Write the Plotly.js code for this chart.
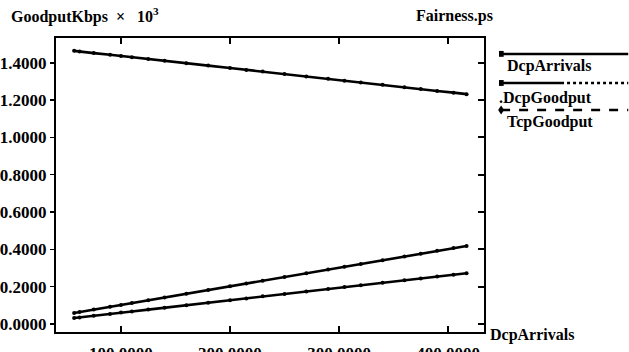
<!DOCTYPE html>
<html><head><meta charset="utf-8">
<script src="https://cdn.plot.ly/plotly-3.0.1.min.js"></script>
<style>html,body{margin:0;padding:0;background:#fff;}#chart{width:629px;height:352px;}</style>
</head><body><div id="chart"></div>
<script>
// Data (Kbps x 10^3 vs DcpArrivals)
const dcpArrivalsX = [57, 62, 75, 90, 100, 110, 125, 140, 160, 180, 200, 215, 230, 250, 270, 290, 305, 320, 340, 360, 375, 390, 405, 417];
const dcpArrivalsY = [0.059, 0.064, 0.077, 0.092, 0.102, 0.112, 0.127, 0.142, 0.162, 0.182, 0.202, 0.217, 0.232, 0.252, 0.272, 0.292, 0.307, 0.322, 0.342, 0.362, 0.377, 0.392, 0.407, 0.418];
const dcpGoodputY = [0.032, 0.035, 0.044, 0.054, 0.061, 0.067, 0.077, 0.087, 0.101, 0.114, 0.127, 0.137, 0.148, 0.161, 0.174, 0.188, 0.198, 0.208, 0.221, 0.234, 0.244, 0.254, 0.264, 0.272];
const tcpGoodputY = [1.464, 1.460, 1.452, 1.443, 1.437, 1.430, 1.420, 1.411, 1.398, 1.385, 1.372, 1.362, 1.353, 1.340, 1.327, 1.314, 1.304, 1.294, 1.282, 1.269, 1.259, 1.249, 1.240, 1.232];
const seriesNames = ["DcpArrivals", ".DcpGoodput", "TcpGoodput"];
const xTicks = [100, 200, 300, 400];
const yTicks = [0, 0.2, 0.4, 0.6, 0.8, 1.0, 1.2, 1.4];

const font = "Liberation Serif";
const lineStyle = {color: "#000", width: 2.6};
const mk = {color: "#000", size: 4};
const traces = [
  {x: dcpArrivalsX, y: dcpArrivalsY, name: seriesNames[0], mode: "lines+markers", line: lineStyle, marker: mk},
  {x: dcpArrivalsX, y: dcpGoodputY, name: seriesNames[1], mode: "lines+markers", line: lineStyle, marker: mk},
  {x: dcpArrivalsX, y: tcpGoodputY, name: seriesNames[2], mode: "lines+markers", line: lineStyle, marker: mk, yaxis: "y2"}
];

const yRange = [-0.043, 1.533];
const shapes = [
  // legend samples
  {type: "line", xref: "paper", yref: "paper", x0: 1.04, x1: 1.337, y0: 0.946, y1: 0.946, line: {color: "#000", width: 2.5}},
  {type: "rect", xref: "paper", yref: "paper", x0: 1.035, x1: 1.046, y0: 0.936, y1: 0.956, fillcolor: "#000", line: {width: 0}},
  {type: "line", xref: "paper", yref: "paper", x0: 1.04, x1: 1.18, y0: 0.847, y1: 0.847, line: {color: "#000", width: 2.5}},
  {type: "line", xref: "paper", yref: "paper", x0: 1.18, x1: 1.337, y0: 0.847, y1: 0.847, line: {color: "#000", width: 2.5, dash: "dot"}},
  {type: "rect", xref: "paper", yref: "paper", x0: 1.035, x1: 1.046, y0: 0.837, y1: 0.857, fillcolor: "#000", line: {width: 0}},
  {type: "line", xref: "paper", yref: "paper", x0: 1.04, x1: 1.337, y0: 0.755, y1: 0.755, line: {color: "#000", width: 2.5, dash: "dash"}},
  {type: "path", xref: "paper", yref: "paper", path: "M 1.033 0.755 L 1.040 0.77 L 1.047 0.755 L 1.040 0.74 Z", fillcolor: "#000", line: {width: 0}}
];
const ann = (text, x, y, xa, size) => ({text: text, x: x, y: y, xref: "paper", yref: "paper", xanchor: xa, yanchor: "middle", showarrow: false, font: {family: font, size: size || 16, weight: "bold"}});
const annotations = [
  ann(seriesNames[0], 1.049, 0.905, "left"),
  ann(seriesNames[1], 1.031, 0.796, "left"),
  ann(seriesNames[2], 1.049, 0.714, "left"),
  ann("DcpArrivals", 1.01, -0.01, "left"),
  ann("GoodputKbps &nbsp;×&nbsp;&nbsp; 10<sup>3</sup>", -0.11, 1.075, "left", 16),
  ann("Fairness.ps", 1.025, 1.075, "right")
];

const layout = {
  width: 629, height: 352,
  margin: {l: 56, r: 145, t: 38, b: 20},
  paper_bgcolor: "#fff", plot_bgcolor: "#fff",
  showlegend: false,
  font: {family: font, size: 16, color: "#000"},
  xaxis: {range: [40.4, 433], tickvals: xTicks, tickformat: ".4f", ticks: "inside", ticklen: 6, tickwidth: 1.5, tickcolor: "#000",
          showline: true, linecolor: "#000", linewidth: 2, mirror: "ticks", showgrid: false, zeroline: false,
          tickfont: {family: font, size: 17, weight: "bold"}, ticklabelstandoff: 5},
  yaxis: {range: yRange, tickvals: yTicks, tickformat: ".4f", ticks: "outside", ticklen: 4, tickwidth: 1.5, tickcolor: "#000",
          showline: true, linecolor: "#000", linewidth: 2, mirror: true, showgrid: false, zeroline: false,
          tickfont: {family: font, size: 17, weight: "bold"}},
  yaxis2: {range: yRange, tickvals: yTicks, overlaying: "y", side: "right", anchor: "x", ticks: "inside", ticklen: 6, tickwidth: 2, tickcolor: "#000",
           showticklabels: false, showgrid: false, zeroline: false, showline: false},
  shapes: shapes,
  annotations: annotations
};
Plotly.newPlot("chart", traces, layout, {staticPlot: true});
</script></body></html>
